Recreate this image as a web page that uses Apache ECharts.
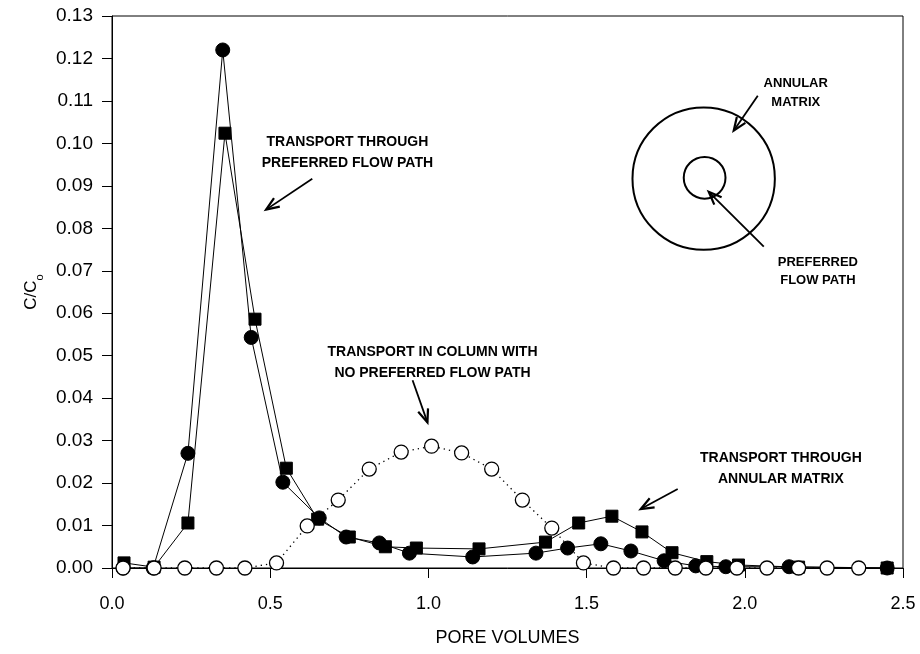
<!DOCTYPE html>
<html>
<head>
<meta charset="utf-8">
<script src="https://cdn.jsdelivr.net/npm/echarts@6/dist/echarts.min.js"></script>
<style>
  html, body { margin: 0; padding: 0; background: #fff; }
  #chart { width: 920px; height: 654px; }
</style>
</head>
<body>
<div id="chart"></div>
<script>
// Breakthrough curves: relative concentration C/Co versus pore volumes eluted

// Filled circles: transport through the preferred flow path
const pathPoreVol = [0.035, 0.13, 0.24, 0.35, 0.44, 0.54, 0.655, 0.74, 0.845, 0.94, 1.14, 1.34, 1.44, 1.545, 1.64, 1.745, 1.845, 1.94, 2.14, 2.45];
const pathConc    = [0, 0, 0.027, 0.122, 0.0543, 0.0202, 0.0118, 0.0073, 0.0059, 0.0035, 0.0026, 0.0035, 0.0047, 0.0057, 0.0040, 0.0017, 0.0005, 0.0003, 0.0003, 0];

// Filled squares: second column with preferred path and annular matrix
const matrixPoreVol = [0.038, 0.133, 0.24, 0.357, 0.452, 0.551, 0.65, 0.75, 0.864, 0.962, 1.16, 1.37, 1.475, 1.58, 1.675, 1.77, 1.88, 1.98, 2.17, 2.45];
const matrixConc    = [0.0012, 0.0002, 0.0106, 0.1024, 0.0586, 0.0235, 0.0115, 0.0073, 0.0050, 0.0047, 0.0045, 0.0061, 0.0106, 0.0122, 0.0085, 0.0036, 0.0015, 0.0007, 0.0002, 0];

// Open circles: homogeneous column, no preferred flow path
const uniformPoreVol = [0.035, 0.133, 0.23, 0.33, 0.42, 0.52, 0.617, 0.715, 0.813, 0.914, 1.01, 1.105, 1.20, 1.297, 1.39, 1.49, 1.585, 1.68, 1.78, 1.877, 1.975, 2.07, 2.17, 2.26, 2.36];
const uniformConc    = [0, 0, 0, 0, 0, 0.0012, 0.0099, 0.0160, 0.0233, 0.0273, 0.0287, 0.0271, 0.0233, 0.0160, 0.0094, 0.0012, 0, 0, 0, 0, 0, 0, 0, 0, 0];

// Axis settings
const xMin = 0, xMax = 2.5, xStep = 0.5;
const yMin = 0, yMax = 0.13, yStep = 0.01;

const zip = (xs, ys) => xs.map((x, i) => [x, ys[i]]);

const FONT = 'Liberation Sans, Arial, Helvetica, sans-serif';
const chart = echarts.init(document.getElementById('chart'));

chart.setOption({
  animation: false,
  backgroundColor: '#fff',
  grid: {
    left: 112, right: 17, top: 16, bottom: 86,
    outerBoundsMode: 'none', containLabel: false,
    show: true, borderColor: '#000', borderWidth: 1
  },
  xAxis: {
    type: 'value', min: xMin, max: xMax, interval: xStep,
    name: 'PORE VOLUMES', nameLocation: 'middle', nameGap: 61,
    nameTextStyle: { fontFamily: FONT, fontSize: 18, color: '#000' },
    axisLine: { lineStyle: { color: '#000', width: 1 } },
    axisTick: { inside: false, length: 10, lineStyle: { color: '#000' } },
    axisLabel: { fontFamily: FONT, fontSize: 18, color: '#000', margin: 27,
                 formatter: v => v.toFixed(1) },
    splitLine: { show: false }
  },
  yAxis: {
    type: 'value', min: yMin, max: yMax, interval: yStep,
    name: '{m|C/C}{s|o}', nameLocation: 'middle', nameGap: 66, nameRotate: 90,
    nameTextStyle: {
      rich: {
        m: { fontFamily: FONT, fontSize: 17, color: '#000', lineHeight: 22, verticalAlign: 'middle' },
        s: { fontFamily: FONT, fontSize: 11, color: '#000', lineHeight: 22, verticalAlign: 'bottom', padding: [0, 0, -3, 0] }
      }
    },
    axisLine: { lineStyle: { color: '#000', width: 1 } },
    axisTick: { inside: false, length: 10, lineStyle: { color: '#000' } },
    axisLabel: { fontFamily: FONT, fontSize: 19, color: '#000', margin: 19,
                 formatter: v => v.toFixed(2) },
    splitLine: { show: false }
  },
  series: [
    {
      name: 'Annular matrix column', type: 'line', data: zip(matrixPoreVol, matrixConc),
      symbol: 'rect', symbolSize: 12,
      itemStyle: { color: '#000', borderColor: '#000' },
      lineStyle: { color: '#000', width: 1 }, z: 3
    },
    {
      name: 'Preferred flow path', type: 'line', data: zip(pathPoreVol, pathConc),
      symbol: 'circle', symbolSize: 14,
      itemStyle: { color: '#000', borderColor: '#000' },
      lineStyle: { color: '#000', width: 1 }, z: 4
    },
    {
      name: 'No preferred flow path', type: 'line', data: zip(uniformPoreVol, uniformConc),
      symbol: 'circle', symbolSize: 14,
      itemStyle: { color: '#fff', borderColor: '#000', borderWidth: 1.3 },
      lineStyle: { color: '#000', width: 1.3, type: [1.3, 4] }, z: 5
    }
  ]
});

// Annotations, positioned in data units (pore volumes, C/Co)
const notes = [
  { text: 'TRANSPORT THROUGH\nPREFERRED FLOW PATH', at: [0.744, 0.0978], size: 14, lh: 21 },
  { text: 'TRANSPORT IN COLUMN WITH\nNO PREFERRED FLOW PATH', at: [1.013, 0.0484], size: 14, lh: 21 },
  { text: 'TRANSPORT THROUGH\nANNULAR MATRIX', at: [2.114, 0.0235], size: 14, lh: 21 },
  { text: 'ANNULAR\nMATRIX', at: [2.161, 0.1119], size: 13, lh: 19 },
  { text: 'PREFERRED\nFLOW PATH', at: [2.231, 0.0698], size: 13, lh: 18 }
];
const arrows = [
  { from: [0.633, 0.0917], to: [0.487, 0.0844] },
  { from: [0.950, 0.0442], to: [0.997, 0.0343] },
  { from: [1.788, 0.0186], to: [1.671, 0.0139] },
  { from: [2.041, 0.1112], to: [1.965, 0.1030] },
  { from: [2.060, 0.0757], to: [1.886, 0.0886] }
];
// Column cross-section sketch: outer ring and inner preferred path
const rings = [
  { center: [1.870, 0.0917], radius: 0.225 },
  { center: [1.873, 0.0919], radius: 0.066 }
];

function drawAnnotations() {
  const px = p => chart.convertToPixel({ gridIndex: 0 }, p);
  const unit = px([1, 0])[0] - px([0, 0])[0];
  const els = [];
  notes.forEach(n => {
    const [x, y] = px(n.at);
    els.push({
      type: 'text', x: x, y: y, z: 10,
      style: {
        text: n.text, fill: '#000', align: 'center', verticalAlign: 'middle',
        font: 'bold ' + n.size + 'px ' + FONT, lineHeight: n.lh
      }
    });
  });
  arrows.forEach(a => {
    const [x1, y1] = px(a.from);
    const [x2, y2] = px(a.to);
    const ang = Math.atan2(y1 - y2, x1 - x2);
    const len = 14, spread = 0.38;
    const b1 = [x2 + len * Math.cos(ang + spread), y2 + len * Math.sin(ang + spread)];
    const b2 = [x2 + len * Math.cos(ang - spread), y2 + len * Math.sin(ang - spread)];
    els.push({ type: 'line', z: 10, shape: { x1, y1, x2, y2 }, style: { stroke: '#000', lineWidth: 1.8 } });
    els.push({ type: 'polyline', z: 10, shape: { points: [b1, [x2, y2], b2] },
               style: { stroke: '#000', lineWidth: 2.2, fill: null } });
  });
  rings.forEach(r => {
    const [cx, cy] = px(r.center);
    els.push({ type: 'circle', z: 9, shape: { cx, cy, r: r.radius * unit },
               style: { stroke: '#000', lineWidth: 2, fill: null } });
  });
  chart.setOption({ graphic: { elements: els } });
}
drawAnnotations();
</script>
</body>
</html>
